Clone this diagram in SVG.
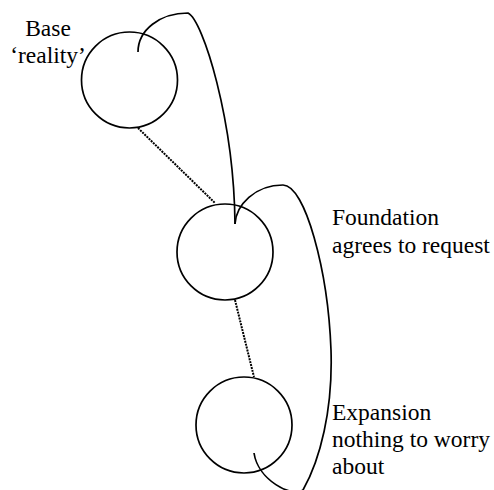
<svg xmlns="http://www.w3.org/2000/svg" width="494" height="490" viewBox="0 0 494 490">
<style>
.node{fill:none;stroke:#000;stroke-width:1.7}
.lbl{font-family:"Liberation Serif","Times New Roman",serif;font-size:23.5px;fill:#000}
.arc{fill:none;stroke:#000;stroke-width:1.7}
.dot{fill:none;stroke:#000;stroke-width:2;stroke-dasharray:2 1}
</style>
<rect width="494" height="490" fill="#fff"/>
<g id="connectors">
<line class="dot" x1="138" y1="128" x2="215" y2="203"/>
<line class="dot" x1="235" y1="300" x2="254" y2="377"/>
<path class="arc" d="M138,52 C138,30 160,13 188,13 C203,20 234,120 235,224"/>
<path class="arc" d="M235,224 C236,205 255,185 283,185 C305,185 328,270 331,350 C333,410 320,460 303,490 C292,498 258,480 254,453"/>
</g>
<g id="base">
<circle class="node" cx="129.5" cy="80" r="48"/>
<text class="lbl" x="48" y="36" text-anchor="middle">Base</text>
<text class="lbl" x="48" y="63" text-anchor="middle">‘reality’</text>
</g>
<g id="foundation">
<circle class="node" cx="225" cy="252" r="48"/>
<text class="lbl" x="332" y="225">Foundation</text>
<text class="lbl" x="332" y="253">agrees to request</text>
</g>
<g id="expansion">
<circle class="node" cx="244" cy="425" r="48"/>
<text class="lbl" x="332" y="420">Expansion</text>
<text class="lbl" x="332" y="447">nothing to worry</text>
<text class="lbl" x="332" y="474">about</text>
</g>
</svg>
